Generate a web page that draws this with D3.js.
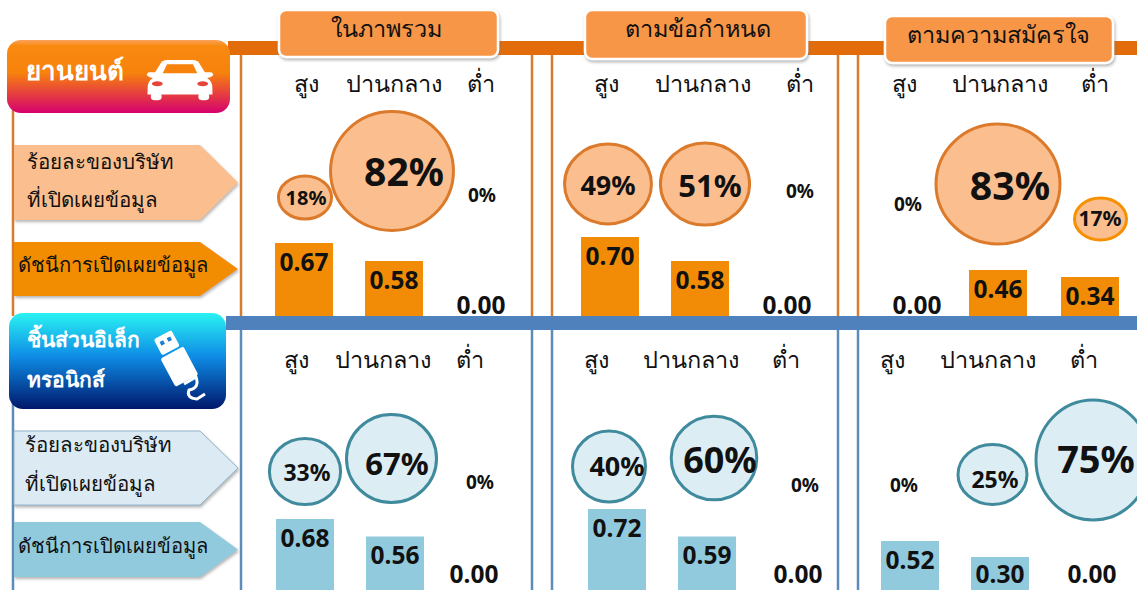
<!DOCTYPE html>
<html>
<head>
<meta charset="utf-8">
<script src="https://cdn.jsdelivr.net/npm/d3@7"></script>
<style>
  html, body { margin: 0; padding: 0; background: #fff; overflow: hidden; }
  text { font-family: "Noto Sans", "Open Sans", "DejaVu Sans", sans-serif; fill: #111; }
</style>
</head>
<body>
<script>
var categories = ["ในภาพรวม", "ตามข้อกำหนด", "ตามความสมัครใจ"];
var levels = ["สูง", "ปานกลาง", "ต่ำ"];
var pctLabel = ["ร้อยละของบริษัท", "ที่เปิดเผยข้อมูล"];
var idxLabel = "ดัชนีการเปิดเผยข้อมูล";

var autoPct = [[18, 82, 0], [49, 51, 0], [0, 83, 17]];
var autoIdx = [[0.67, 0.58, 0], [0.70, 0.58, 0], [0, 0.46, 0.34]];
var elecPct = [[33, 67, 0], [40, 60, 0], [0, 25, 75]];
var elecIdx = [[0.68, 0.56, 0], [0.72, 0.59, 0], [0.52, 0.30, 0]];

var width = 1137, height = 590;

var svg = d3.select("body").append("svg")
    .attr("width", width)
    .attr("height", height);

var defs = svg.append("defs");

var shadow = defs.append("filter").attr("id", "shadow")
    .attr("x", "-5%").attr("y", "-10%").attr("width", "112%").attr("height", "125%");
shadow.append("feDropShadow")
    .attr("dx", 1).attr("dy", 2).attr("stdDeviation", 1.5)
    .attr("flood-color", "#777").attr("flood-opacity", 0.55);

function gradient(id, stops) {
  var g = defs.append("linearGradient").attr("id", id)
      .attr("x1", 0).attr("y1", 0).attr("x2", 0).attr("y2", 1);
  stops.forEach(function (s) {
    g.append("stop").attr("offset", s[0]).attr("stop-color", s[1]);
  });
}
gradient("autoGrad", [[0, "#f9a25c"], [0.08, "#f98a10"], [0.45, "#f7820c"], [1, "#d6006e"]]);
gradient("elecGrad", [[0, "#2af2f2"], [0.45, "#0e8de6"], [1, "#00176b"]]);

// panel placement, one entry per category. the source slide is hand placed,
// so every cell also gets a small nudge from its column
var rows = [
  {
    pct: autoPct, idx: autoIdx,
    line: "#d97b2e", band: "#e36c0a",
    bubbleFill: "#fbbf8f", bubbleStroke: "#dc7a2c",
    arrow: "#fbbf8f", arrowStroke: "none", idxArrow: "#f28c06", bar: "#f28c06",
    top: 55, bottom: 316, bubbleMid: 184,
    headerY: 86,
    colRange: [[305, 481], [609, 787], [905, 1095]],
    headerRange: [[306, 481], [606, 800], [904, 1095]],
    rx: d3.scaleLinear().domain([17, 83]).range([26, 62]),
    ry: d3.scaleLinear().domain([17, 83]).range([21, 60]),
    fontSize: d3.scaleLinear().domain([17, 18, 49, 51, 82]).range([21, 20, 27, 31, 39]),
    barY: d3.scaleLinear().domain([0, 0.34, 0.46, 0.58, 0.70]).range([316, 277, 270, 261, 237]),
    bubbleDx: [[0, -1, 0], [-1, 7, 0], [0, -2, 5.5]],
    bubbleDy: [[13.5, -13, 0], [0, 0, 0], [0, 0, 35]],
    textDx: [[1, 11, 1], [-1, 12, 13], [3, 10, 5]],
    textDy: [[16, -9, 13], [4, 5, 9], [22, 5, 36]],
    barDx: [[-1, 1, 0], [1, 2, 0], [12, -2, -5]],
    zeroDy: -8.5,
    arrowTop: 145, arrowBottom: 220, idxTop: 242, idxBottom: 296, labelX: 27,
    labelY: [163, 201], idxY: 267
  },
  {
    pct: elecPct, idx: elecIdx,
    line: "#5b8db8", band: "#4f81bd",
    bubbleFill: "#dcedf4", bubbleStroke: "#3f8a9c",
    arrow: "#dcebf3", arrowStroke: "#8fb4c9", idxArrow: "#92cadd", bar: "#92cadd",
    top: 330, bottom: 590, bubbleMid: 465,
    headerY: 362,
    colRange: [[305, 480], [609, 790], [904, 1085]],
    headerRange: [[296, 470], [596, 786], [892, 1084]],
    rx: d3.scaleLinear().domain([25, 40, 67, 75]).range([34.5, 36.5, 45, 57]),
    ry: d3.scaleLinear().domain([25, 40, 67, 75]).range([30, 35.5, 44, 60]),
    fontSize: d3.scaleLinear().domain([25, 33, 40, 60, 67, 75]).range([23, 23, 27, 36, 31, 38]),
    barY: d3.scaleLinear().domain([0, 0.30, 0.52, 0.56, 0.59, 0.68, 0.72]).range([590, 557, 541, 536.5, 536.5, 519, 509]),
    bubbleDx: [[0, -1, 0], [0, 14.5, 0], [0, -2, 8]],
    bubbleDy: [[6.5, -6.5, 0], [1.5, -7, 0], [0, 9.5, -5]],
    textDx: [[2, 4.5, 0], [8, 20.5, 15], [0, 0.5, 11]],
    textDy: [[10, 2, 19], [4, -2, 22], [22, 17, -2]],
    barDx: [[0, 2.5, -6], [8, 7.5, 8], [6, 5.5, 7]],
    zeroDy: -14,
    arrowTop: 431, arrowBottom: 505, idxTop: 522, idxBottom: 577, labelX: 25,
    labelY: [446, 485], idxY: 548
  }
];

var barWidth = 58;

// pills for the first row only, they sit across the orange band
var pills = [
  {x: 279, y: 10, w: 219, h: 47},
  {x: 585, y: 10, w: 222, h: 49},
  {x: 885, y: 16, w: 228, h: 47}
];

function drawRow(r) {
  var g = svg.append("g");

  // frame lines
  [13, 241, 532, 552, 838, 858].forEach(function (x) {
    g.append("line")
      .attr("x1", x).attr("x2", x)
      .attr("y1", r.top).attr("y2", r.bottom)
      .attr("stroke", r.line).attr("stroke-width", 2.5);
  });

  // left arrows
  var arrowPts = function (top, bottom) {
    var mid = (top + bottom) / 2;
    return [[14, top], [200, top], [238, mid], [200, bottom], [14, bottom]].join(" ");
  };
  g.append("polygon").attr("points", arrowPts(r.arrowTop, r.arrowBottom))
    .attr("fill", r.arrow).attr("stroke", r.arrowStroke).attr("filter", "url(#shadow)");
  g.append("polygon").attr("points", arrowPts(r.idxTop, r.idxBottom))
    .attr("fill", r.idxArrow).attr("filter", "url(#shadow)");

  pctLabel.forEach(function (t, i) {
    g.append("text").attr("x", r.labelX).attr("y", r.labelY[i])
      .attr("dominant-baseline", "middle")
      .style("font-size", "20.5px").text(t);
  });
  g.append("text").attr("x", 18).attr("y", r.idxY)
    .attr("dominant-baseline", "middle")
    .style("font-size", "20.2px").text(idxLabel);

  categories.forEach(function (cat, c) {
    var x = d3.scalePoint().domain([0, 1, 2]).range(r.colRange[c]);
    var hx = d3.scalePoint().domain([0, 1, 2]).range(r.headerRange[c]);

    g.append("g").selectAll("text").data(levels).enter().append("text")
      .attr("x", function (d, i) { return hx(i); })
      .attr("y", r.headerY)
      .attr("text-anchor", "middle")
      .attr("dominant-baseline", "middle")
      .style("font-size", "23.5px")
      .text(function (d) { return d; });

    // bars first, bubbles can sit over them
    g.append("g").selectAll("rect").data(r.idx[c]).enter().append("rect")
      .attr("x", function (d, i) { return x(i) + r.barDx[c][i] - barWidth / 2; })
      .attr("y", function (d) { return r.barY(d); })
      .attr("width", barWidth)
      .attr("height", function (d) { return r.barY(0) - r.barY(d); })
      .attr("fill", r.bar);

    // short bars in the lower row run out of room, keep the label on the page
    g.append("g").selectAll("text").data(r.idx[c]).enter().append("text")
      .attr("x", function (d, i) { return x(i) + r.barDx[c][i]; })
      .attr("y", function (d) { return Math.min(r.barY(d) + 21, r.barY(0) + r.zeroDy); })
      .attr("text-anchor", "middle")
      .attr("dominant-baseline", "middle")
      .style("font-size", "24.5px").style("font-weight", "bold")
      .text(function (d) { return d.toFixed(2); });

    g.append("g").selectAll("ellipse").data(r.pct[c].filter(function (d) { return d > 0; })).enter().append("ellipse")
      .attr("cx", function (d) { var i = r.pct[c].indexOf(d); return x(i) + r.bubbleDx[c][i]; })
      .attr("cy", function (d) { var i = r.pct[c].indexOf(d); return r.bubbleMid + r.bubbleDy[c][i]; })
      .attr("rx", function (d) { return r.rx(d); })
      .attr("ry", function (d) { return r.ry(d); })
      .attr("fill", r.bubbleFill)
      .attr("stroke", function (d) { return d === 17 ? "#f79000" : r.bubbleStroke; })
      .attr("stroke-width", 3);

    g.append("g").selectAll("text").data(r.pct[c]).enter().append("text")
      .attr("x", function (d, i) { return x(i) + r.textDx[c][i]; })
      .attr("y", function (d, i) { return r.bubbleMid + r.textDy[c][i]; })
      .attr("text-anchor", "middle")
      .attr("dominant-baseline", "middle")
      .style("font-size", function (d) { return (d > 0 ? r.fontSize(d) : 19) + "px"; })
      .style("font-weight", "bold")
      .text(function (d) { return d + "%"; });
  });
}

drawRow(rows[0]);

// blue band has to cover the foot of the orange bars
drawRow(rows[1]);

// orange band and pills
svg.append("rect").attr("x", 228).attr("y", 41).attr("width", width - 228).attr("height", 14)
  .attr("fill", rows[0].band);
svg.selectAll("rect.pill").data(pills).enter().append("rect")
  .attr("class", "pill")
  .attr("x", function (d) { return d.x; })
  .attr("y", function (d) { return d.y; })
  .attr("width", function (d) { return d.w; })
  .attr("height", function (d) { return d.h; })
  .attr("rx", 7)
  .attr("fill", "#f79646")
  .attr("stroke", "#fff").attr("stroke-width", 2.5)
  .attr("filter", "url(#shadow)");
svg.selectAll("text.pillText").data(categories).enter().append("text")
  .attr("class", "pillText")
  .attr("x", function (d, i) { return pills[i].x + pills[i].w / 2 + [-2, 2, -1][i]; })
  .attr("y", function (d, i) { return pills[i].y + 21; })
  .attr("text-anchor", "middle")
  .attr("dominant-baseline", "middle")
  .style("font-size", "23.5px")
  .text(function (d) { return d; });

// blue band
svg.append("rect").attr("x", 226).attr("y", 316).attr("width", width - 226).attr("height", 14)
  .attr("fill", rows[1].band);

// row badges
svg.append("rect").attr("x", 7).attr("y", 40).attr("width", 223).attr("height", 73)
  .attr("rx", 14).attr("fill", "url(#autoGrad)");
svg.append("rect").attr("x", 9).attr("y", 313).attr("width", 217).attr("height", 96)
  .attr("rx", 14).attr("fill", "url(#elecGrad)");

svg.append("text").attr("x", 26).attr("y", 73)
  .attr("dominant-baseline", "middle")
  .style("font-size", "26px").style("font-weight", "bold").style("fill", "#fff")
  .text("ยานยนต์");
svg.append("text").attr("x", 27).attr("y", 341)
  .attr("dominant-baseline", "middle")
  .style("font-size", "21px").style("font-weight", "bold").style("fill", "#fff")
  .text("ชิ้นส่วนอิเล็ก");
svg.append("text").attr("x", 27).attr("y", 381)
  .attr("dominant-baseline", "middle")
  .style("font-size", "21px").style("font-weight", "bold").style("fill", "#fff")
  .text("ทรอนิกส์");

// car icon
var car = svg.append("g").attr("transform", "translate(180,83) scale(1.08,0.82)").attr("fill", "#fff");
car.append("path").attr("d", "M-23,-13 L-17,-26 Q-15,-28 -12,-28 L12,-28 Q15,-28 17,-26 L23,-13 L29,-13 Q33,-10 28,-7 L25,-6 Q30,-2 30,6 L30,14 L-30,14 L-30,6 Q-30,-2 -25,-6 L-28,-7 Q-33,-10 -29,-13 Z");
car.append("rect").attr("x", -27).attr("y", 12).attr("width", 10).attr("height", 9).attr("rx", 4);
car.append("rect").attr("x", 17).attr("y", 12).attr("width", 10).attr("height", 9).attr("rx", 4);
car.append("path").attr("d", "M-16,-12 L-12,-23 L12,-23 L16,-12 Z").attr("fill", "#f7820c");
car.append("ellipse").attr("cx", -21).attr("cy", 1).attr("rx", 5).attr("ry", 3).attr("fill", "#e8453a");
car.append("ellipse").attr("cx", 21).attr("cy", 1).attr("rx", 5).attr("ry", 3).attr("fill", "#e8453a");

// usb icon
var usb = svg.append("g").attr("transform", "translate(178,364) rotate(-28)").attr("fill", "#fff");
usb.append("rect").attr("x", -10).attr("y", -33).attr("width", 20).attr("height", 18).attr("rx", 2);
usb.append("rect").attr("x", -6).attr("y", -28).attr("width", 4).attr("height", 4).attr("fill", "#1b7fd8");
usb.append("rect").attr("x", 2).attr("y", -28).attr("width", 4).attr("height", 4).attr("fill", "#1b7fd8");
usb.append("rect").attr("x", -13).attr("y", -13).attr("width", 26).attr("height", 32).attr("rx", 2);
svg.append("path")
  .attr("d", "M184,384 L196,377 Q200,388 189,390 Q186,398 197,399 L205,394")
  .attr("fill", "none").attr("stroke", "#fff").attr("stroke-width", 3);
</script>
</body>
</html>
